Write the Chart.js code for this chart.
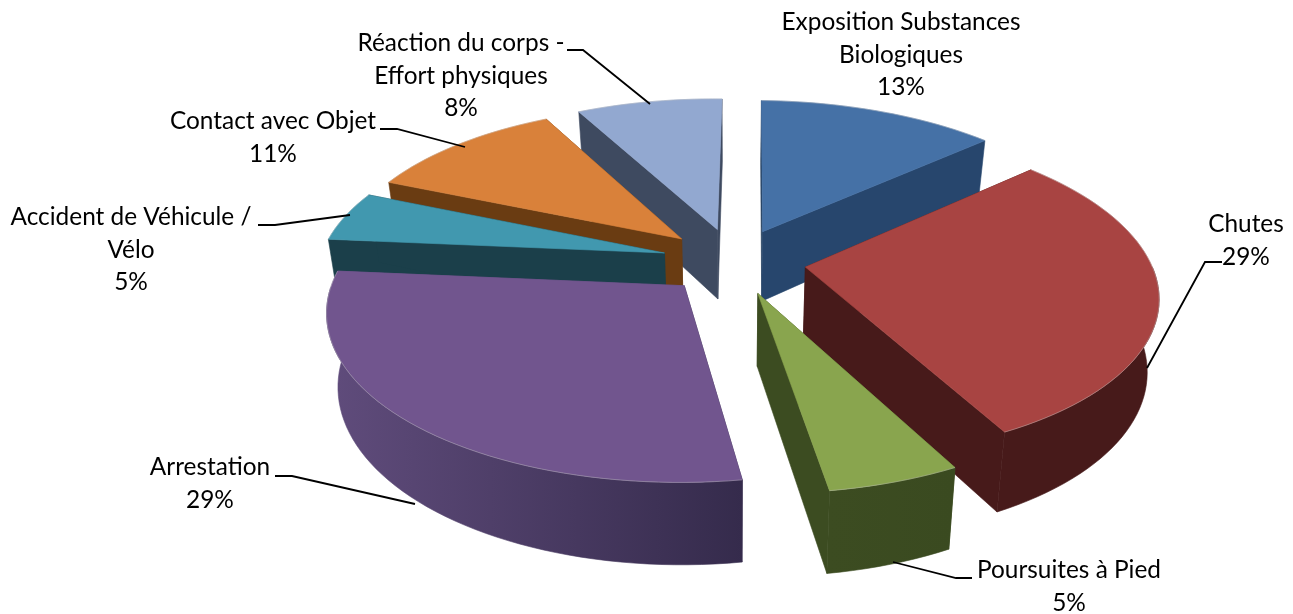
<!DOCTYPE html>
<html>
<head>
<meta charset="utf-8">
<style>
  html, body { margin: 0; padding: 0; background: #fff; }
  canvas { display: block; }
</style>
<script src="https://cdn.jsdelivr.net/npm/chart.js@4/dist/chart.umd.min.js"></script>
</head>
<body>
<canvas id="pie" width="1293" height="614"></canvas>
<script>
const categories = [
  ["Exposition Substances", "Biologiques"],
  ["Chutes"],
  ["Poursuites à Pied"],
  ["Arrestation"],
  ["Accident de Véhicule /", "Vélo"],
  ["Contact avec Objet"],
  ["Réaction du corps -", "Effort physiques"]
];
// the labels show them rounded
const values = [13, 29, 5.2, 28.8, 5, 11, 8];

const topColors = ["#4571a6", "#a84442", "#89a54e", "#71558e", "#4198af", "#d9813a", "#92a8d0"];
// wall colours, left to right
const wallColors = [
  ["#27466d", "#25405f"], ["#471a1a", "#471a1a"], ["#3c4c21", "#3a4a20"], ["#604c7c", "#352b4c"],
  ["#1b3f4a", "#1b3f4a"], ["#6a3c12", "#6a3c12"], ["#3e4a60", "#3e4a60"]
];

// label anchor (centre of text block, first baseline) and leader line
const labelPos = [
  { x: 901, y: 30 },
  { x: 1246, y: 232, leader: [[1222, 262], [1205, 262], [1147, 368]] },
  { x: 1069, y: 578, leader: [[972, 578], [956, 578], [893, 562]] },
  { x: 210, y: 475, leader: [[275, 476], [292, 476], [415, 504]] },
  { x: 131, y: 225, leader: [[258, 225], [275, 225], [350, 215]] },
  { x: 273, y: 129, leader: [[380, 129], [397, 129], [465, 147]] },
  { x: 461, y: 51, leader: [[567, 50], [583, 50], [650, 104]] }
];

// view of the tilted pie
const view = { cx: 734, cy: 261, a: 345, b: 159, shear: 5, persp: 0.15, depth: 71, depthPersp: 0.12, converge: 0.028 };

function project(u, v) {
  const w = 1 - view.persp * v;
  return { x: view.cx + view.a * u / w + view.shear * v, y: view.cy + view.b * v / w };
}

function lower(p, v) {
  return {
    x: view.cx + (p.x - view.cx) * (1 - view.converge),
    y: p.y + view.depth / (1 - view.depthPersp * v)
  };
}

function fillPoly(ctx, pts, color) {
  ctx.beginPath();
  pts.forEach((p, i) => i ? ctx.lineTo(p.x, p.y) : ctx.moveTo(p.x, p.y));
  ctx.closePath();
  ctx.fillStyle = color;
  ctx.fill();
  ctx.strokeStyle = color;
  ctx.lineWidth = 0.6;
  ctx.stroke();
}

function drawSlice(ctx, arc, i) {
  const R = arc.outerRadius;
  const e = arc.options.offset / R;
  const mid = (arc.startAngle + arc.endAngle) / 2;
  const ou = e * Math.cos(mid), ov = e * Math.sin(mid);
  const steps = Math.max(6, Math.round((arc.endAngle - arc.startAngle) * 30));

  const apexP = project(ou, ov);
  const apexB = lower(apexP, ov);
  const top = [], bottom = [], front = [];
  for (let s = 0; s <= steps; s++) {
    const a = arc.startAngle + (arc.endAngle - arc.startAngle) * s / steps;
    const u = ou + Math.cos(a), v = ov + Math.sin(a);
    const p = project(u, v);
    const b = lower(p, v);
    top.push(p);
    bottom.push(b);
    if (Math.sin(a) > -0.02) front.push({ p, b });
  }

  const [wallL, wallR] = wallColors[i];
  // cut faces
  fillPoly(ctx, [apexP, top[0], bottom[0], apexB], wallR);
  fillPoly(ctx, [apexP, top[steps], bottom[steps], apexB], wallL);

  // rim wall, only the part turned to the viewer
  if (front.length > 1) {
    const xs = front.map(f => f.p.x);
    const grad = ctx.createLinearGradient(Math.min(...xs), 0, Math.max(...xs), 0);
    grad.addColorStop(0, wallL);
    grad.addColorStop(1, wallR);
    fillPoly(ctx, front.map(f => f.p).concat(front.map(f => f.b).reverse()), grad);
  }

  // top face
  fillPoly(ctx, [apexP].concat(top), topColors[i]);
  ctx.beginPath();
  top.forEach((p, k) => k ? ctx.lineTo(p.x, p.y) : ctx.moveTo(p.x, p.y));
  ctx.strokeStyle = "rgba(190,190,190,0.4)";
  ctx.lineWidth = 1;
  ctx.stroke();
}

const pie3d = {
  id: "pie3d",
  beforeDatasetDraw(chart, args) {
    const ctx = chart.ctx;
    const arcs = args.meta.data.map((arc, i) => ({ arc, i }));
    // back slices first
    arcs.sort((p, q) => Math.sin((p.arc.startAngle + p.arc.endAngle) / 2) - Math.sin((q.arc.startAngle + q.arc.endAngle) / 2));
    arcs.forEach(({ arc, i }) => drawSlice(ctx, arc, i));
    return false;
  },
  afterDraw(chart) {
    const ctx = chart.ctx;
    ctx.save();
    ctx.font = '24.4px Lato';
    ctx.fillStyle = "#000";
    ctx.textAlign = "center";
    ctx.textBaseline = "alphabetic";
    categories.forEach((lines, i) => {
      const pos = labelPos[i];
      lines.concat(Math.round(values[i]) + "%").forEach((line, k) => ctx.fillText(line, pos.x, pos.y + k * 32.5));
      if (pos.leader) {
        ctx.beginPath();
        pos.leader.forEach((p, k) => k ? ctx.lineTo(p[0], p[1]) : ctx.moveTo(p[0], p[1]));
        ctx.strokeStyle = "#000";
        ctx.lineWidth = 1.8;
        ctx.stroke();
      }
    });
    ctx.restore();
  }
};

new Chart(document.getElementById("pie"), {
  type: "pie",
  data: {
    labels: categories.map(c => c.join(" ")),
    datasets: [{ data: values, backgroundColor: topColors, offset: 58, borderWidth: 0 }]
  },
  options: {
    responsive: false,
    animation: false,
    rotation: 1.5,
    plugins: { legend: { display: false }, tooltip: { enabled: false } }
  },
  plugins: [pie3d]
});
</script>
</body>
</html>
